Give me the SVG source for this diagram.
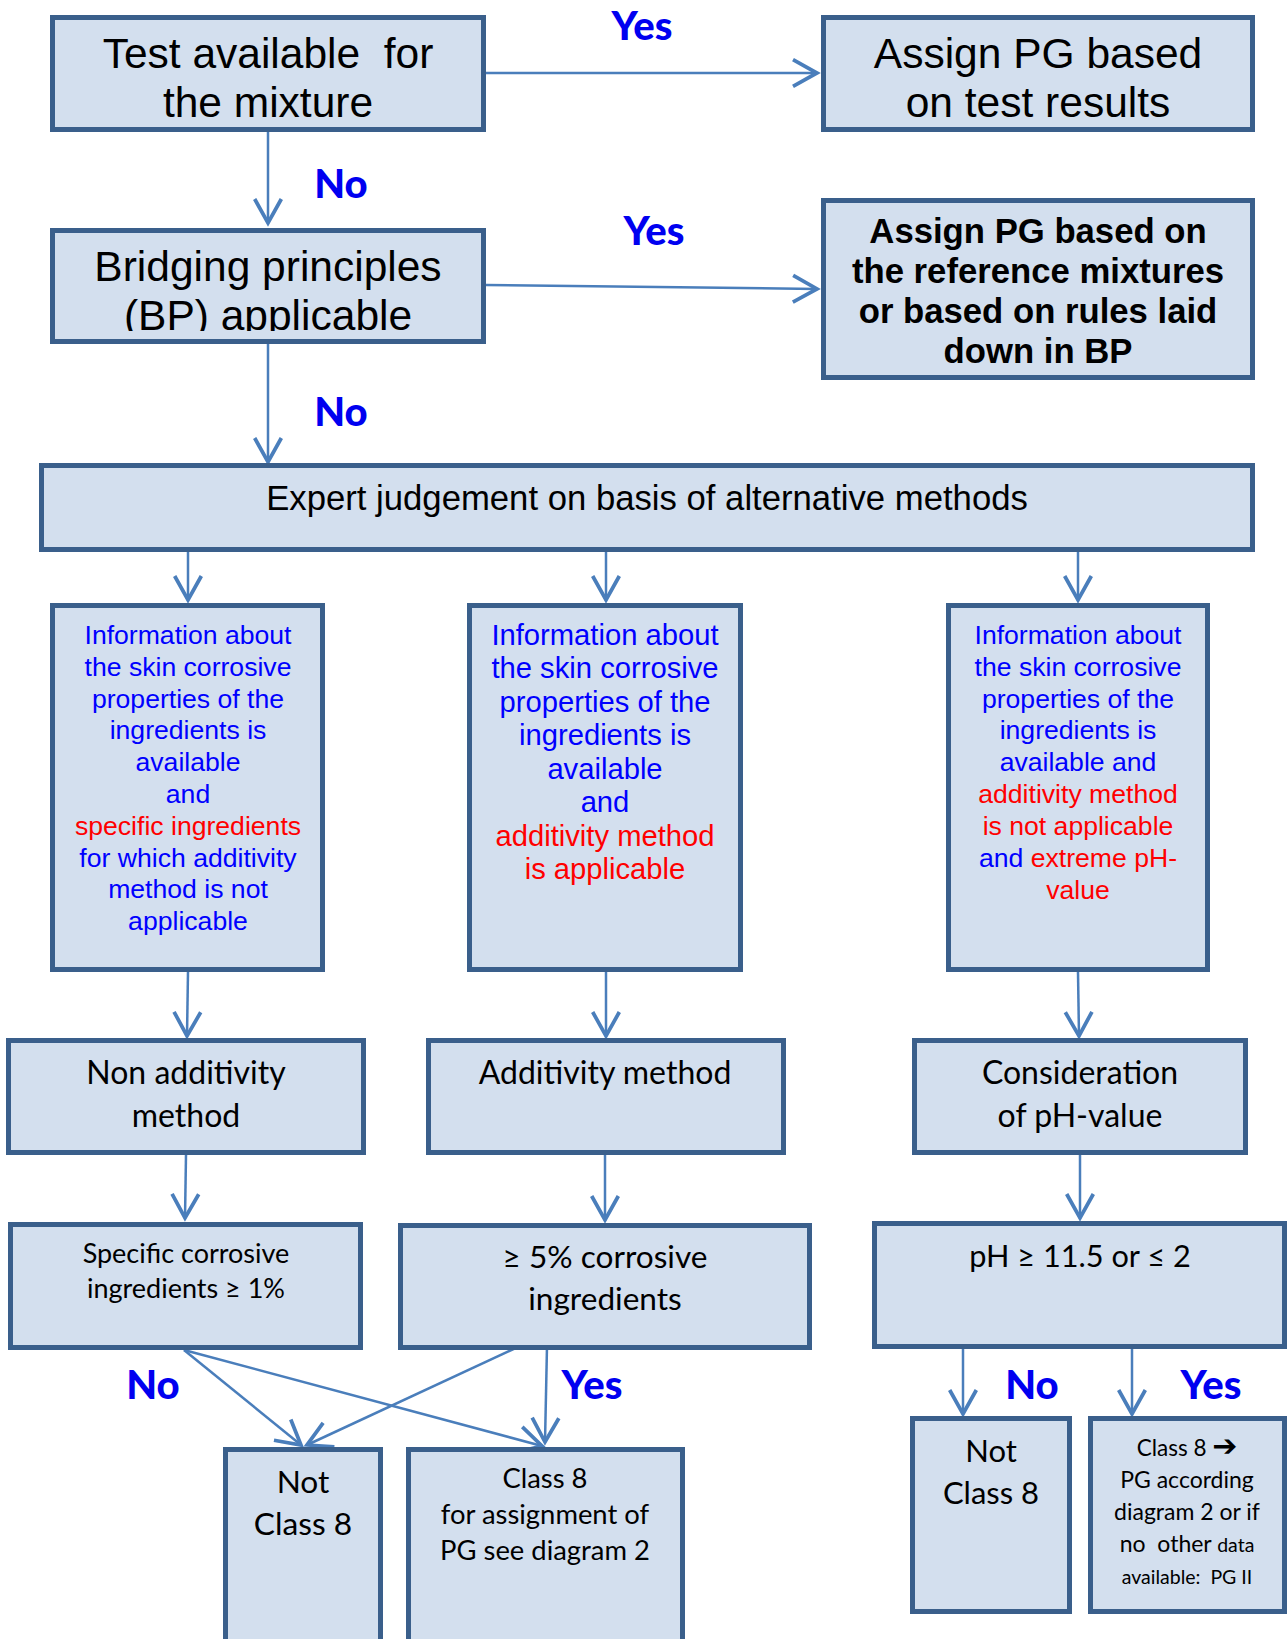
<svg xmlns="http://www.w3.org/2000/svg" width="1288" height="1639" viewBox="0 0 1288 1639">
<style>
.box{fill:#D3DFEE;stroke:#3A5F8B;stroke-width:5}
.con{fill:none;stroke:#4A7EBB;stroke-width:2.5}
.ar{font-family:"Liberation Sans",Arial,sans-serif;text-anchor:middle;fill:#000}
.cb{font-family:Lato,"Open Sans",sans-serif;text-anchor:middle;fill:#000}
.lbl{font-family:Lato,"Open Sans",sans-serif;font-weight:900;font-size:40px;fill:#0000F0;text-anchor:middle}
.bl{fill:#0000FF}
.rd{fill:#FF0000}
</style>
<defs>
<marker id="ah" markerUnits="userSpaceOnUse" markerWidth="40" markerHeight="40" viewBox="-25 -15 30 30" refX="0" refY="0" orient="auto" overflow="visible">
<path d="M-18,-10 L0,0 L-18,10" fill="none" stroke="#4A7EBB" stroke-width="2.8"/>
</marker>
<clipPath id="clipBP"><rect x="50" y="230" width="436" height="101"/></clipPath>
</defs>

<g id="connectors">
<line class="con" x1="486" y1="73" x2="817" y2="73" marker-end="url(#ah)"/>
<line class="con" x1="268" y1="132" x2="268" y2="223" marker-end="url(#ah)"/>
<line class="con" x1="486" y1="285" x2="817" y2="289" marker-end="url(#ah)"/>
<line class="con" x1="268" y1="344" x2="268" y2="462" marker-end="url(#ah)"/>
<line class="con" x1="188" y1="548" x2="188" y2="600" marker-end="url(#ah)"/>
<line class="con" x1="606" y1="548" x2="606" y2="600" marker-end="url(#ah)"/>
<line class="con" x1="1078" y1="548" x2="1078" y2="600" marker-end="url(#ah)"/>
<line class="con" x1="188" y1="972" x2="187" y2="1036" marker-end="url(#ah)"/>
<line class="con" x1="606" y1="972" x2="606" y2="1036" marker-end="url(#ah)"/>
<line class="con" x1="1078" y1="972" x2="1079" y2="1036" marker-end="url(#ah)"/>
<line class="con" x1="186" y1="1155" x2="185" y2="1218" marker-end="url(#ah)"/>
<line class="con" x1="605" y1="1155" x2="605" y2="1220" marker-end="url(#ah)"/>
<line class="con" x1="1080" y1="1155" x2="1080" y2="1218" marker-end="url(#ah)"/>
<line class="con" x1="184" y1="1350" x2="301" y2="1445" marker-end="url(#ah)"/>
<line class="con" x1="184" y1="1350" x2="542" y2="1446" marker-end="url(#ah)"/>
<line class="con" x1="520" y1="1346" x2="307" y2="1445" marker-end="url(#ah)"/>
<line class="con" x1="547" y1="1346" x2="545" y2="1442" marker-end="url(#ah)"/>
<line class="con" x1="963" y1="1348" x2="963" y2="1414" marker-end="url(#ah)"/>
<line class="con" x1="1132" y1="1348" x2="1132" y2="1414" marker-end="url(#ah)"/>
</g>

<g id="labels">
<text class="lbl" x="642" y="40">Yes</text>
<text class="lbl" x="341" y="198">No</text>
<text class="lbl" x="654" y="245">Yes</text>
<text class="lbl" x="341" y="426">No</text>
<text class="lbl" x="153" y="1399">No</text>
<text class="lbl" x="592" y="1399">Yes</text>
<text class="lbl" x="1032" y="1399">No</text>
<text class="lbl" x="1211" y="1399">Yes</text>
</g>

<g id="n-test">
<rect class="box" x="52.5" y="17.5" width="431" height="112"/>
<text class="ar" font-size="42.5" x="268" y="68">Test available &#160;for</text>
<text class="ar" font-size="42.5" x="268" y="117">the mixture</text>
</g>

<g id="n-assign-test">
<rect class="box" x="823.5" y="17.5" width="429" height="112"/>
<text class="ar" font-size="42.5" x="1038" y="68">Assign PG based</text>
<text class="ar" font-size="42.5" x="1038" y="117">on test results</text>
</g>

<g id="n-bridging">
<rect class="box" x="52.5" y="230.5" width="431" height="111"/>
<g clip-path="url(#clipBP)">
<text class="ar" font-size="42.5" x="268" y="281">Bridging principles</text>
<text class="ar" font-size="42.5" x="268" y="330">(BP) applicable</text>
</g>
</g>

<g id="n-assign-bp">
<rect class="box" x="823.5" y="200.5" width="429" height="177"/>
<text class="ar" font-size="34.7" font-weight="bold" x="1038" y="243">Assign PG based on</text>
<text class="ar" font-size="34.7" font-weight="bold" x="1038" y="283">the reference mixtures</text>
<text class="ar" font-size="34.7" font-weight="bold" x="1038" y="323">or based on rules laid</text>
<text class="ar" font-size="34.7" font-weight="bold" x="1038" y="363">down in BP</text>
</g>

<g id="n-expert">
<rect class="box" x="41.5" y="465.5" width="1211" height="84"/>
<text class="ar" font-size="34.7" x="647" y="510">Expert judgement on basis of alternative methods</text>
</g>

<g id="n-info-left">
<rect class="box" x="52.5" y="605.5" width="270" height="364"/>
<g class="ar" font-size="26.6">
<text x="188" y="644" class="bl">Information about</text>
<text x="188" y="676" class="bl">the skin corrosive</text>
<text x="188" y="708" class="bl">properties of the</text>
<text x="188" y="739" class="bl">ingredients is</text>
<text x="188" y="771" class="bl">available</text>
<text x="188" y="803" class="bl">and</text>
<text x="188" y="835" class="rd">specific ingredients</text>
<text x="188" y="867" class="bl">for which additivity</text>
<text x="188" y="898" class="bl">method is not</text>
<text x="188" y="930" class="bl">applicable</text>
</g>
</g>

<g id="n-info-mid">
<rect class="box" x="469.5" y="605.5" width="271" height="364"/>
<g class="ar" font-size="29.2">
<text x="605" y="645" class="bl">Information about</text>
<text x="605" y="678" class="bl">the skin corrosive</text>
<text x="605" y="712" class="bl">properties of the</text>
<text x="605" y="745" class="bl">ingredients is</text>
<text x="605" y="779" class="bl">available</text>
<text x="605" y="812" class="bl">and</text>
<text x="605" y="846" class="rd">additivity method</text>
<text x="605" y="879" class="rd">is applicable</text>
</g>
</g>

<g id="n-info-right">
<rect class="box" x="948.5" y="605.5" width="259" height="364"/>
<g class="ar" font-size="26.6">
<text x="1078" y="644" class="bl">Information about</text>
<text x="1078" y="676" class="bl">the skin corrosive</text>
<text x="1078" y="708" class="bl">properties of the</text>
<text x="1078" y="739" class="bl">ingredients is</text>
<text x="1078" y="771" class="bl">available and</text>
<text x="1078" y="803" class="rd">additivity method</text>
<text x="1078" y="835" class="rd">is not applicable</text>
<text x="1078" y="867"><tspan class="bl">and </tspan><tspan class="rd">extreme pH-</tspan></text>
<text x="1078" y="899" class="rd">value</text>
</g>
</g>

<g id="n-nonadd">
<rect class="box" x="8.5" y="1040.5" width="355" height="112"/>
<text class="cb" font-size="32" x="186" y="1084">Non additivity</text>
<text class="cb" font-size="32" x="186" y="1127">method</text>
</g>

<g id="n-add">
<rect class="box" x="428.5" y="1040.5" width="355" height="112"/>
<text class="cb" font-size="32" x="605" y="1084">Additivity method</text>
</g>

<g id="n-ph">
<rect class="box" x="914.5" y="1040.5" width="331" height="112"/>
<text class="cb" font-size="32" x="1080" y="1084">Consideration</text>
<text class="cb" font-size="32" x="1080" y="1127">of pH-value</text>
</g>

<g id="n-specific">
<rect class="box" x="10.5" y="1224.5" width="350" height="123"/>
<text class="cb" font-size="27" x="186" y="1263">Specific corrosive</text>
<text class="cb" font-size="27" x="186" y="1298">ingredients ≥ 1%</text>
</g>

<g id="n-5pct">
<rect class="box" x="400.5" y="1225.5" width="409" height="122"/>
<text class="cb" font-size="31.6" x="605" y="1268">≥ 5% corrosive</text>
<text class="cb" font-size="31.6" x="605" y="1310">ingredients</text>
</g>

<g id="n-phval">
<rect class="box" x="874.5" y="1223.5" width="410" height="123"/>
<text class="cb" font-size="30.7" x="1080" y="1267">pH ≥ 11.5 or ≤ 2</text>
</g>

<g id="n-not8-left">
<rect class="box" x="225.5" y="1449.5" width="155" height="220"/>
<text class="cb" font-size="31.7" x="303" y="1493">Not</text>
<text class="cb" font-size="31.7" x="303" y="1535">Class 8</text>
</g>

<g id="n-class8-left">
<rect class="box" x="408.5" y="1449.5" width="274" height="220"/>
<text class="cb" font-size="27.4" x="545" y="1488">Class 8</text>
<text class="cb" font-size="27.4" x="545" y="1524">for assignment of</text>
<text class="cb" font-size="27.4" x="545" y="1560">PG see diagram 2</text>
</g>

<g id="n-not8-right">
<rect class="box" x="912.5" y="1418.5" width="157" height="193"/>
<text class="cb" font-size="31" x="991" y="1462">Not</text>
<text class="cb" font-size="31" x="991" y="1504">Class 8</text>
</g>

<g id="n-class8-right">
<rect class="box" x="1090.5" y="1418.5" width="194" height="193"/>
<text class="cb" font-size="22.5" x="1187" y="1456">Class 8 <tspan font-family="DejaVu Sans" font-weight="bold" font-size="30">➔</tspan></text>
<text class="cb" font-size="23" x="1187" y="1488">PG according</text>
<text class="cb" font-size="23" x="1187" y="1520">diagram 2 or if</text>
<text class="cb" font-size="23" x="1187" y="1552">no &#160;other <tspan font-size="19.5">data</tspan></text>
<text class="cb" font-size="19.5" x="1187" y="1584">available: &#160;PG II</text>
</g>
</svg>
